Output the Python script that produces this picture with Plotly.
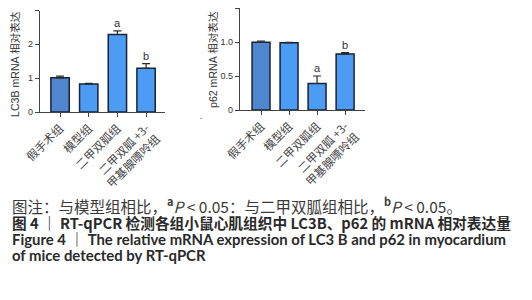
import plotly.graph_objects as go

categories = ["假手术组", "模型组", "二甲双胍组", "二甲双胍 +3-<br>甲基腺嘌呤组"]
lc3b_values = [1.01, 0.83, 2.29, 1.29]
lc3b_err = [0.05, 0.02, 0.11, 0.14]
lc3b_marks = ["", "", "a", "b"]
p62_values = [0.995, 0.99, 0.39, 0.825]
p62_err = [0.02, 0.005, 0.11, 0.02]
p62_marks = ["", "", "a", "b"]
lc3b_ticks = [0, 1, 2, 3]
p62_ticks = [0, 0.5, 1.0, 1.5]
p62_ticklabels = ["0", "0.5", "1.0", "1.5"]

bar_colors = ["#4f86cf", "#4c9bf5", "#4c9bf5", "#4c9bf5"]
CJK = "Noto Sans CJK SC"
LAT = "Lato, Noto Sans CJK SC"
AX = "Liberation Sans, Noto Sans CJK SC"

# the page body adds an 8px margin, so the figure is drawn offset by 8px
OFF = 8
W, H = 532 - OFF, 300 - OFF
def px(x):
    return min(1.0, max(0.0, (x - OFF) / W))
def py(y):
    return min(1.0, max(0.0, (H - (y - OFF)) / H))

fig = go.Figure()

def add_panel(xa, ya, values, err, marks):
    fig.add_trace(go.Bar(
        x=list(range(len(categories))), y=values,
        xaxis=xa, yaxis=ya, width=0.64,
        marker=dict(color=bar_colors, line=dict(color="#1a2236", width=1.5)),
        error_y=dict(type="data", symmetric=False, array=err,
                     arrayminus=[0] * len(err), color="#2a2a2a",
                     thickness=1.2, width=4),
        showlegend=False, hoverinfo="skip",
    ))
    for i, (v, e, m) in enumerate(zip(values, err, marks)):
        if m:
            fig.add_annotation(x=i, y=v + e, xref=xa, yref=ya, text=m,
                               showarrow=False, xanchor="center",
                               yanchor="bottom", yshift=0,
                               font=dict(family=AX, size=11, color="#333"))

add_panel("x", "y", lc3b_values, lc3b_err, lc3b_marks)
add_panel("x2", "y2", p62_values, p62_err, p62_marks)

xcommon = dict(
    tickmode="array", tickvals=list(range(4)), ticktext=categories,
    tickangle=-45, ticks="outside", ticklen=4, tickwidth=1.2,
    tickcolor="#444", showline=True, linecolor="#444", linewidth=1.3,
    showgrid=False, zeroline=False, automargin=False,
    tickfont=dict(family=CJK, size=11.5, color="#444"),
)
ycommon = dict(
    ticks="outside", ticklen=4, tickwidth=1.2, tickcolor="#444",
    showline=True, linecolor="#444", linewidth=1.3, showgrid=False,
    zeroline=False, automargin=False,
    tickfont=dict(family=AX, size=9, color="#333"),
)

fig.update_layout(
    width=W, height=H, margin=dict(l=0, r=0, t=0, b=0, autoexpand=False),
    paper_bgcolor="white", plot_bgcolor="white",
    xaxis=dict(domain=[px(40), px(165)], range=[-0.7, 3.66], anchor="y", **xcommon),
    yaxis=dict(domain=[py(112), py(10.5)], range=[0, 3], anchor="x",
               tickvals=lc3b_ticks, **ycommon),
    xaxis2=dict(domain=[px(240), px(365)], range=[-0.75, 3.71], anchor="y2", **xcommon),
    yaxis2=dict(domain=[py(110), py(7)], range=[0, 1.5], anchor="x2",
                tickvals=p62_ticks, ticktext=p62_ticklabels, **ycommon),
    bargap=0.3,
)

# y-axis titles
fig.add_annotation(xref="paper", yref="paper", x=px(15), y=py(64),
                   xanchor="center", yanchor="middle",
                   text="LC3B mRNA 相对表达", textangle=-90, showarrow=False,
                   font=dict(family=AX, size=10.6, color="#333"))
fig.add_annotation(xref="paper", yref="paper", x=px(213), y=py(60),
                   xanchor="center", yanchor="middle",
                   text="p62 mRNA 相对表达", textangle=-90, showarrow=False,
                   font=dict(family=AX, size=10.6, color="#333"))
fig.add_annotation(xref="paper", yref="paper", x=px(201), y=py(117),
                   xanchor="center", yanchor="middle",
                   text="-", showarrow=False,
                   font=dict(family=AX, size=8, color="#555"))

captions = [
    ("图注：与模型组相比，<sup><b>a</b></sup><i>P</i> < 0.05：与二甲双胍组相比，<sup><b>b</b></sup><i>P</i> < 0.05。",
     205, "#3a3a3a", CJK, 15.5),
    ("<b>图 4 ｜ RT-qPCR 检测各组小鼠心肌组织中 LC3B、p62 的 mRNA 相对表达量</b>",
     222, "#2a2a2a", CJK, 14.7),
    ("<b>Figure 4 ｜ The relative mRNA expression of LC3 B and p62 in myocardium</b>",
     239, "#2a2a2a", LAT, 14.9),
    ("<b>of mice detected by RT-qPCR</b>", 255, "#2a2a2a", LAT, 14.9),
]
for text, y, col, fam, sz in captions:
    fig.add_annotation(xref="paper", yref="paper", x=px(11), y=py(y),
                       xanchor="left", yanchor="middle", text=text,
                       showarrow=False, align="left", borderpad=0,
                       font=dict(family=fam, size=sz, color=col))

fig.write_html("out.html")
